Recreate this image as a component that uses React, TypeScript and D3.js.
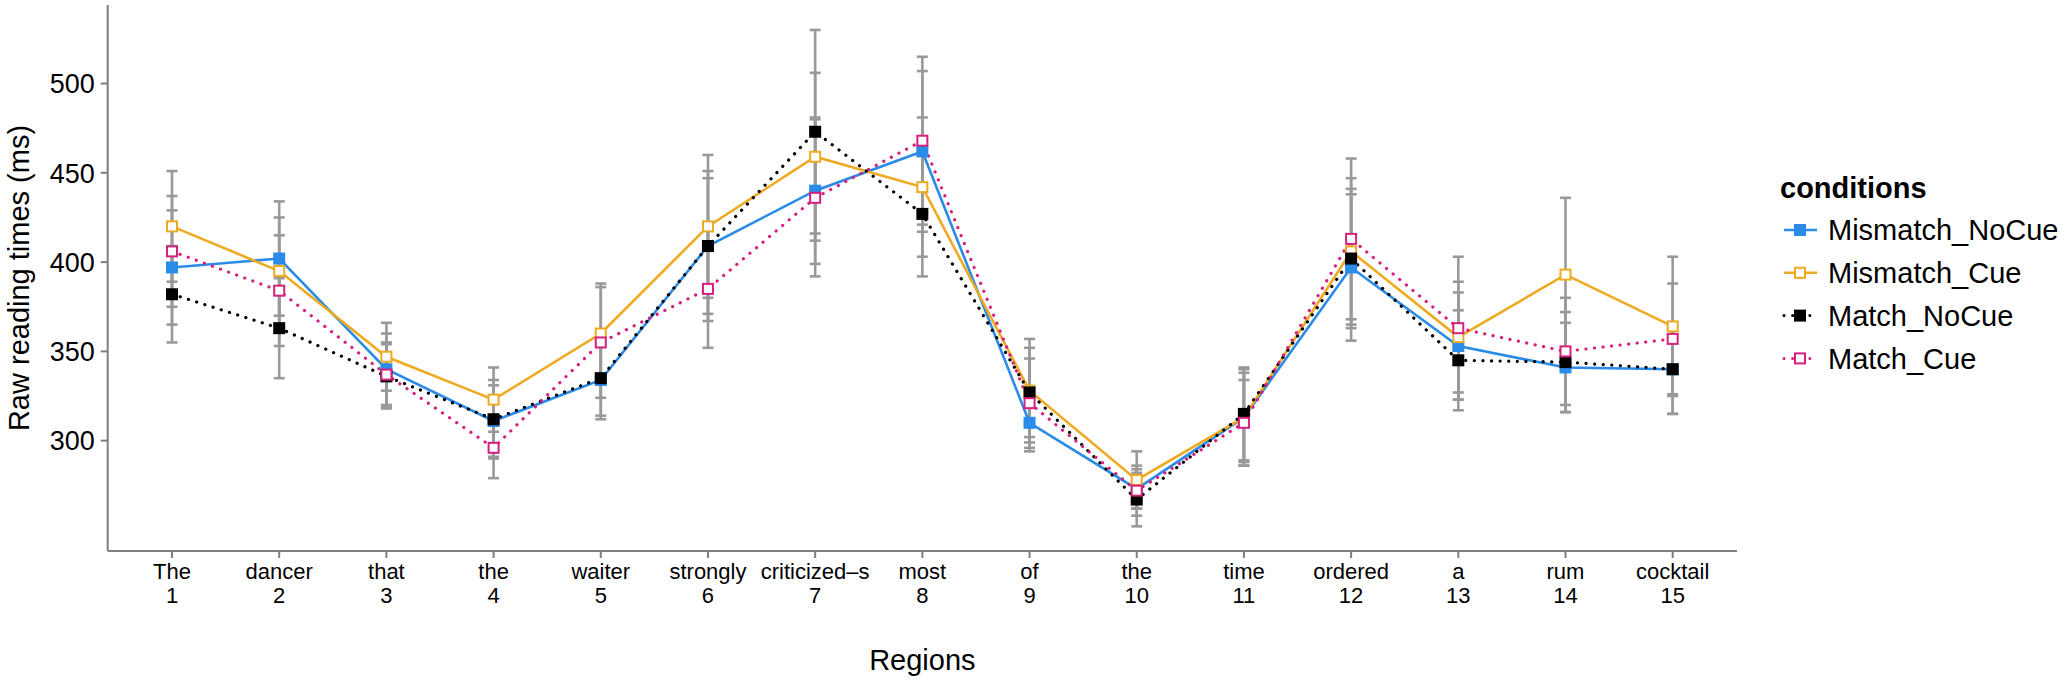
import React from "react";
import * as d3 from "d3";

const regionWords = ["The", "dancer", "that", "the", "waiter", "strongly", "criticized\u2013s", "most", "of", "the", "time", "ordered", "a", "rum", "cocktail"];
const regionNums = ["1", "2", "3", "4", "5", "6", "7", "8", "9", "10", "11", "12", "13", "14", "15"];
const yTicks = [300, 350, 400, 450, 500];

const seriesNames = ["Mismatch_NoCue", "Mismatch_Cue", "Match_NoCue", "Match_Cue"];

const mismatchNoCue = [397, 402, 340, 311, 334, 409, 440, 462, 310, 273, 313, 397, 353, 341, 340];
const mismatchNoCueErr = [32, 32, 20, 20, 20, 38, 41, 45, 16, 11, 25, 41, 30, 25, 25];

const mismatchCue = [420, 395, 347, 323, 360, 420, 459, 442, 328, 278, 313, 406, 358, 393, 364];
const mismatchCueErr = [31, 30, 19, 18, 28, 40, 47, 39, 29, 16, 27, 41, 31, 43, 39];

const matchNoCue = [382, 363, 336, 312, 335, 409, 473, 427, 327, 267, 315, 402, 345, 344, 340];
const matchNoCueErr = [27, 28, 18, 22, 23, 42, 57, 35, 25, 15, 26, 39, 28, 28, 25];

const matchCue = [406, 384, 337, 296, 355, 385, 436, 468, 321, 272, 310, 413, 363, 350, 357];
const matchCueErr = [31, 31, 18, 17, 31, 33, 44, 47, 25, 14, 24, 45, 40, 30, 31];

const seriesValues = [mismatchNoCue, mismatchCue, matchNoCue, matchCue];
const seriesErrors = [mismatchNoCueErr, mismatchCueErr, matchNoCueErr, matchCueErr];
const seriesColors = ["#2A8BE8", "#EEAA22", "#000000", "#D6207E"];
const seriesFilled = [true, false, true, false];
const seriesDotted = [false, false, true, true];

const W = 2067;
const H = 681;
const FONT = "'Liberation Sans', Arial, Helvetica, sans-serif";

export default function App() {
  const panel = { left: 107.7, right: 1737, top: 5, bottom: 551 };
  const x = d3
    .scalePoint<string>()
    .domain(regionNums)
    .range([panel.left, panel.right])
    .padding(0.6);
  const y = d3.scaleLinear().domain([238.2, 544]).range([panel.bottom, panel.top]);

  const line = d3
    .line<number>()
    .x((_, i) => x(regionNums[i]) as number)
    .y((d) => y(d));

  const ms = 12; // marker size
  const capW = 11;

  return (
    <div style={{ position: "absolute", left: 0, top: 0, width: W, height: H, background: "#fff" }}>
      <svg width={W} height={H} style={{ display: "block", fontFamily: FONT }}>
        <rect x={0} y={0} width={W} height={H} fill="#fff" />
        {/* axes */}
        <line x1={panel.left} x2={panel.left} y1={panel.top} y2={panel.bottom} stroke="#7f7f7f" strokeWidth={2} />
        <line x1={panel.left} x2={panel.right} y1={panel.bottom} y2={panel.bottom} stroke="#7f7f7f" strokeWidth={2} />
        {yTicks.map((t) => (
          <g key={"yt" + t}>
            <line x1={panel.left - 7} x2={panel.left} y1={y(t)} y2={y(t)} stroke="#7f7f7f" strokeWidth={2} />
            <text x={panel.left - 13} y={y(t)} dy="0.36em" textAnchor="end" fontSize={27} fill="#000">
              {t}
            </text>
          </g>
        ))}
        {regionNums.map((r, i) => (
          <g key={"xt" + r}>
            <line x1={x(r)} x2={x(r)} y1={panel.bottom} y2={panel.bottom + 7} stroke="#7f7f7f" strokeWidth={2} />
            <text x={x(r)} y={579} textAnchor="middle" fontSize={22} fill="#000">
              {regionWords[i]}
            </text>
            <text x={x(r)} y={603} textAnchor="middle" fontSize={22} fill="#000">
              {r}
            </text>
          </g>
        ))}
        <text x={(panel.left + panel.right) / 2} y={670} textAnchor="middle" fontSize={29} fill="#000">
          Regions
        </text>
        <text
          transform={`translate(29, ${(panel.top + panel.bottom) / 2}) rotate(-90)`}
          textAnchor="middle"
          fontSize={29}
          fill="#000"
        >
          Raw reading times (ms)
        </text>

        {/* error bars */}
        {seriesValues.map((vals, s) => (
          <g key={"eb" + s} stroke="#999999" strokeWidth={2.6}>
            {vals.map((v, i) => {
              const cx = x(regionNums[i]) as number;
              const e = seriesErrors[s][i];
              return (
                <g key={i}>
                  <line x1={cx} x2={cx} y1={y(v - e)} y2={y(v + e)} />
                  <line x1={cx - capW / 2} x2={cx + capW / 2} y1={y(v - e)} y2={y(v - e)} />
                  <line x1={cx - capW / 2} x2={cx + capW / 2} y1={y(v + e)} y2={y(v + e)} />
                </g>
              );
            })}
          </g>
        ))}

        {/* lines */}
        {seriesValues.map((vals, s) => (
          <path
            key={"ln" + s}
            d={line(vals) || ""}
            fill="none"
            stroke={seriesColors[s]}
            strokeWidth={seriesDotted[s] ? 3.2 : 2.6}
            strokeDasharray={seriesDotted[s] ? "0.1 8.5" : undefined}
            strokeLinecap={seriesDotted[s] ? "round" : "butt"}
          />
        ))}

        {/* points */}
        {seriesValues.map((vals, s) => (
          <g key={"pt" + s}>
            {vals.map((v, i) => {
              const cx = x(regionNums[i]) as number;
              return seriesFilled[s] ? (
                <rect key={i} x={cx - ms / 2} y={y(v) - ms / 2} width={ms} height={ms} fill={seriesColors[s]} />
              ) : (
                <rect
                  key={i}
                  x={cx - ms / 2 + 1}
                  y={y(v) - ms / 2 + 1}
                  width={ms - 2}
                  height={ms - 2}
                  fill="#fff"
                  stroke={seriesColors[s]}
                  strokeWidth={2}
                />
              );
            })}
          </g>
        ))}

        {/* legend */}
        <text x={1780} y={198} fontSize={29} fontWeight="bold" fill="#000">
          conditions
        </text>
        {seriesNames.map((name, s) => {
          const cy = 230 + s * 42.8;
          const kx = 1800;
          return (
            <g key={"lg" + s}>
              <line
                x1={1784}
                x2={1817}
                y1={cy}
                y2={cy}
                stroke={seriesColors[s]}
                strokeWidth={seriesDotted[s] ? 3 : 2.6}
                strokeDasharray={seriesDotted[s] ? "0.1 8.5" : undefined}
                strokeLinecap={seriesDotted[s] ? "round" : "butt"}
              />
              {seriesFilled[s] ? (
                <rect x={kx - ms / 2} y={cy - ms / 2} width={ms} height={ms} fill={seriesColors[s]} />
              ) : (
                <rect
                  x={kx - ms / 2 + 1}
                  y={cy - ms / 2 + 1}
                  width={ms - 2}
                  height={ms - 2}
                  fill="#fff"
                  stroke={seriesColors[s]}
                  strokeWidth={2}
                />
              )}
              <text x={1828} y={cy} dy="0.36em" fontSize={29} fill="#000">
                {name}
              </text>
            </g>
          );
        })}
      </svg>
    </div>
  );
}
